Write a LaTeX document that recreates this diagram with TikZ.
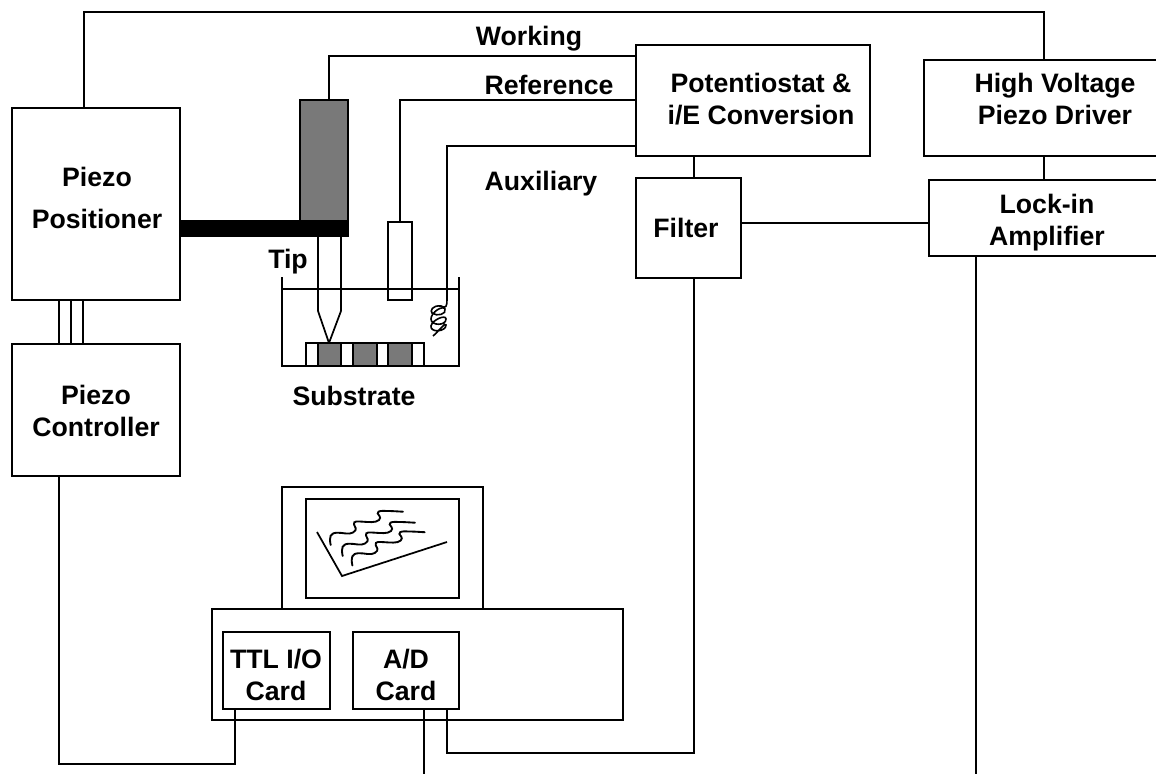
\documentclass[tikz,border=0pt]{standalone}
\usepackage{fontspec}
\setmainfont{Liberation Sans}
\usetikzlibrary{calc}
\tikzset{
  x=0.75pt,y=-0.75pt,
  wire/.style={line width=1.3pt,black,line join=miter},
  lab/.style={font=\bfseries\fontsize{20}{24}\selectfont,align=center,inner sep=0pt,text=black},
  gfill/.style={fill=gray!95!black,draw=black,line width=1.3pt},
}
\newcommand{\rbox}[6][]{%
  \node[draw=black,line width=1.3pt,inner sep=0pt,outer sep=0pt,#1,
        minimum width=#4*0.75pt-#2*0.75pt,minimum height=#5*0.75pt-#3*0.75pt] (#6)
        at ({(#2+#4)/2},{(#3+#5)/2}) {};}
\newcommand{\wave}[2]{%
  \draw[line width=1.4pt,shift={(#1,#2)},line cap=round]
    (330.7,545) .. controls (329,537) and (330,533) .. (337,532.7)
    .. controls (343,532.5) and (349,535) .. (353,532.5)
    .. controls (358,529.5) and (355,527) .. (354,524.5)
    .. controls (353,520.5) and (358,521.5) .. (363,521.7)
    .. controls (368,522) and (376,523) .. (379,520)
    .. controls (382,517) and (378,515) .. (377.7,513.5)
    .. controls (377.5,510) and (383,511) .. (388,511)
    .. controls (393,511) and (398,511.5) .. (403,511.7);}
\begin{document}
\begin{tikzpicture}
\useasboundingbox (0,0) rectangle (1156,774);
\clip (0,0) rectangle (1156,774);
\fill[white] (0,0) rectangle (1156,774);

% main boxes
\rbox{12}{108}{180}{300}{pp}
\rbox{12}{344}{180}{476}{pc}
\rbox{636}{45}{870}{156}{pot}
\rbox{924}{60}{1188}{156}{hv}
\rbox{929}{180}{1165}{256}{li}
\rbox{636}{178}{741}{278}{fl}
\rbox{212}{609}{623}{720}{pcase}
\rbox{223}{632}{330}{709}{ttl}
\rbox{353}{632}{459}{709}{ad}
\rbox{282}{487}{483}{609}{mon}
\rbox{306}{499}{459}{598}{scr}

% tip assembly
\rbox[fill=gray!95!black]{300}{100}{348}{222}{hold}
\rbox[fill=black]{180}{221}{348}{236}{bar}
\rbox{388}{222}{412}{300}{refel}
\coordinate (tippt) at (329,343);

% connectors
\draw[wire] (84,0 |- pp.north) -- (84,12) -- (1044,12) -- (1044,0 |- hv.north);
\draw[wire] (1044,0 |- hv.south) -- (1044,0 |- li.north);
\draw[wire] (59,0 |- pp.south) -- (59,0 |- pc.north);
\draw[wire] (71,0 |- pp.south) -- (71,0 |- pc.north);
\draw[wire] (83,0 |- pp.south) -- (83,0 |- pc.north);
\draw[wire] (329,0 |- hold.north) -- (329,56) -- (pot.west |- 0,56);
\draw[wire] (refel.north) -- (400,100) -- (pot.west |- 0,100);
\draw[wire] (447,300) -- (447,146) -- (pot.west |- 0,146);
\draw[wire] (694,0 |- pot.south) -- (694,0 |- fl.north);
\draw[wire] (fl.east |- 0,223) -- (li.west |- 0,223);
\draw[wire] (694,0 |- fl.south) -- (694,753) -- (447,753) -- (447,0 |- ad.south);
\draw[wire] (424,0 |- ad.south) -- (424,774);
\draw[wire] (976,0 |- li.south) -- (976,774);
\draw[wire] (235,0 |- ttl.south) -- (235,764) -- (59,764) -- (59,0 |- pc.south);

% tip
\draw[wire] (318,236) -- (318,311) -- (tippt) -- (341,311) -- (341,236);

% beaker
\draw[wire] (282,277) -- (282,366) -- (459,366) -- (459,277);
\draw[wire] (282,289) -- (459,289);

% substrate
\draw[wire,fill=white] (306,343) rectangle (424,366);
\draw[gfill] (318,343) rectangle (341,366);
\draw[gfill] (353,343) rectangle (377,366);
\draw[gfill] (388,343) rectangle (412,366);

% coil
\draw[line width=1.2pt] (447,300) .. controls (447,306) and (446,309) .. (441,306)
  .. controls (432,305) and (430,311) .. (432,313)
  .. controls (437,317) and (447,314) .. (445,309)
  .. controls (443,305) and (431,312) .. (431,319)
  .. controls (431,326) and (446,326) .. (446,319)
  .. controls (446,314) and (432,320) .. (431,326)
  .. controls (430,333) and (446,332) .. (446,325)
  .. controls (446,321) and (438,332) .. (433,336);

% screen trace
\draw[line width=1.3pt] (317,532) -- (342,576) -- (447,542);
\wave{0}{0}
\wave{12}{11}
\wave{21.7}{20.5}

% labels
\node[lab] (t1) at (97,198) {Piezo\\[7pt]Positioner};
\node[lab] (t2) at (96,411) {Piezo\\Controller};
\node[lab] (t3) at (761,99) {Potentiostat \&\\i/E Conversion};
\node[lab] (t4) at (1055,99) {High Voltage\\Piezo Driver};
\node[lab] (t5) at (1047,223) {Lock-in\\Amplifier};
\node[lab] (t6) at (686,228) {Filter};
\node[lab] (t7) at (276,675) {TTL I/O\\Card};
\node[lab] (t8) at (406,675) {A/D\\Card};
\node[lab] (t9) at (529,39) {Working};
\node[lab] (t10) at (549,85) {Reference};
\node[lab] (t11) at (541,184) {Auxiliary};
\node[lab] (t12) at (288,262) {Tip};
\node[lab] (t13) at (354,396) {Substrate};
\end{tikzpicture}
\end{document}
